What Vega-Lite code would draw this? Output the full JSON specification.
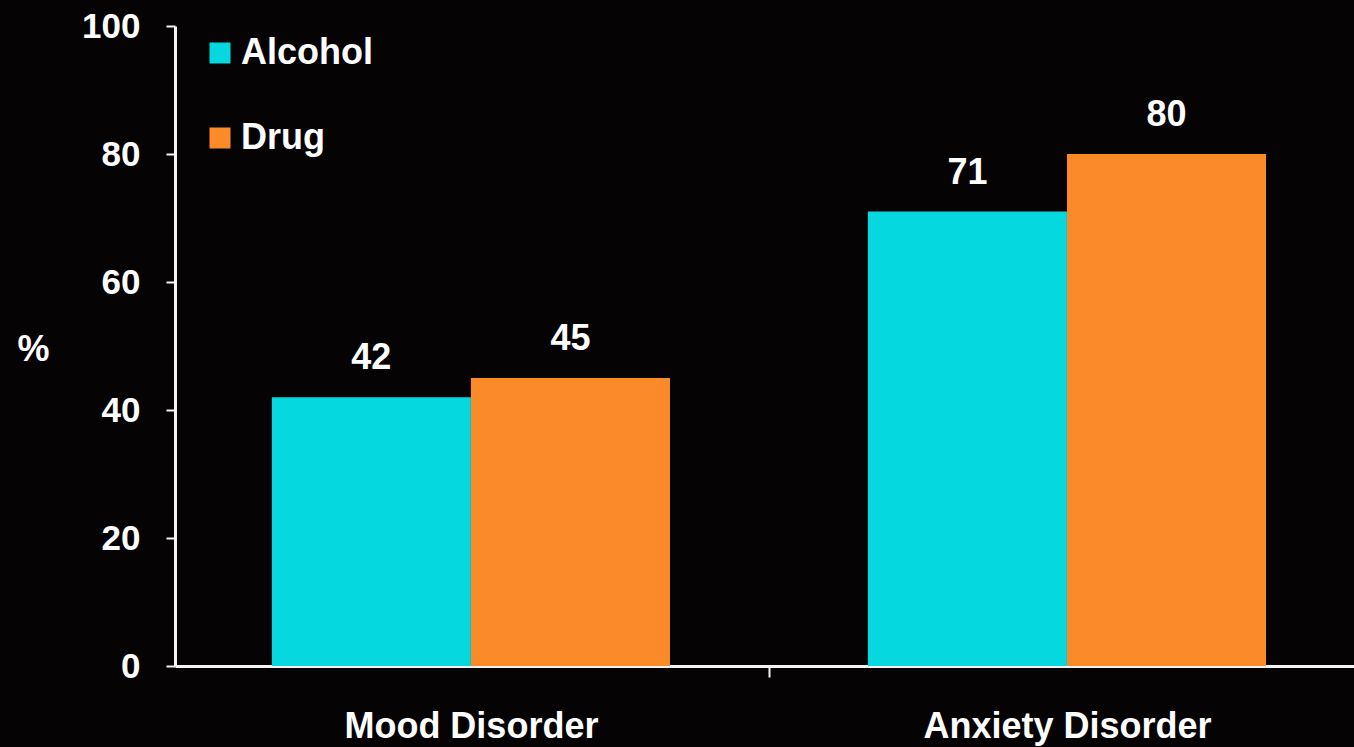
{
  "$schema": "https://vega.github.io/schema/vega-lite/v6.json",
  "autosize": "none",
  "width": 1179,
  "height": 640,
  "padding": {"left": 175, "top": 26, "right": 0, "bottom": 81},
  "background": "#060304",
  "config": {
    "view": {"stroke": null},
    "font": "Liberation Sans"
  },
  "data": {
    "values": [
      {"disorder": "Mood Disorder", "substance": "Alcohol", "pct": 42},
      {"disorder": "Mood Disorder", "substance": "Drug", "pct": 45},
      {"disorder": "Anxiety Disorder", "substance": "Alcohol", "pct": 71},
      {"disorder": "Anxiety Disorder", "substance": "Drug", "pct": 80}
    ]
  },
  "encoding": {
    "x": {
      "field": "disorder",
      "type": "nominal",
      "sort": ["Mood Disorder", "Anxiety Disorder"],
      "scale": {"paddingInner": 0.332, "paddingOuter": 0.155, "align": 0.524},
      "axis": {
        "title": null,
        "labelAngle": 0,
        "labelLimit": 0,
        "labelFont": "Liberation Sans",
        "labelFontWeight": "bold",
        "labelFontSize": 36,
        "labelColor": "#ffffff",
        "labelPadding": 32,
        "domainColor": "#f4f4f4",
        "domainWidth": 3,
        "tickColor": "#f4f4f4",
        "tickWidth": 2,
        "tickSize": 11,
        "tickOffset": 298,
        "labelOffset": -298
      }
    },
    "xOffset": {
      "field": "substance",
      "type": "nominal",
      "scale": {"paddingInner": 0, "paddingOuter": 0}
    },
    "y": {
      "field": "pct",
      "type": "quantitative",
      "scale": {"domain": [0, 100], "nice": false},
      "axis": {
        "values": [0, 20, 40, 60, 80, 100],
        "grid": false,
        "title": "%",
        "titleAngle": 0,
        "titleFont": "Liberation Sans",
        "titleFontWeight": "bold",
        "titleFontSize": 36,
        "titleColor": "#ffffff",
        "titleX": -142,
        "titleY": 342,
        "titleAlign": "center",
        "titleBaseline": "bottom",
        "labelFont": "Liberation Sans",
        "labelFontWeight": "bold",
        "labelFontSize": 35,
        "labelColor": "#ffffff",
        "labelPadding": 26,
        "domainColor": "#f4f4f4",
        "domainWidth": 3,
        "tickColor": "#f4f4f4",
        "tickWidth": 2,
        "tickSize": 9
      }
    }
  },
  "layer": [
    {
      "mark": {"type": "bar"},
      "encoding": {
        "color": {
          "field": "substance",
          "type": "nominal",
          "scale": {"domain": ["Alcohol", "Drug"], "range": ["#06d8df", "#fb8a28"]},
          "legend": {
            "title": null,
            "orient": "none",
            "legendX": 27,
            "legendY": 9,
            "padding": 0,
            "symbolType": "square",
            "symbolSize": 441,
            "symbolStrokeWidth": 0,
            "labelFont": "Liberation Sans",
            "labelFontWeight": "bold",
            "labelFontSize": 36,
            "labelColor": "#ffffff",
            "labelOffset": 3,
            "rowPadding": 49
          }
        }
      }
    },
    {
      "mark": {
        "type": "text",
        "baseline": "bottom",
        "dy": -20,
        "fontSize": 36,
        "fontWeight": "bold",
        "font": "Liberation Sans",
        "color": "#ffffff"
      },
      "encoding": {
        "text": {"field": "pct", "type": "quantitative"}
      }
    }
  ]
}
